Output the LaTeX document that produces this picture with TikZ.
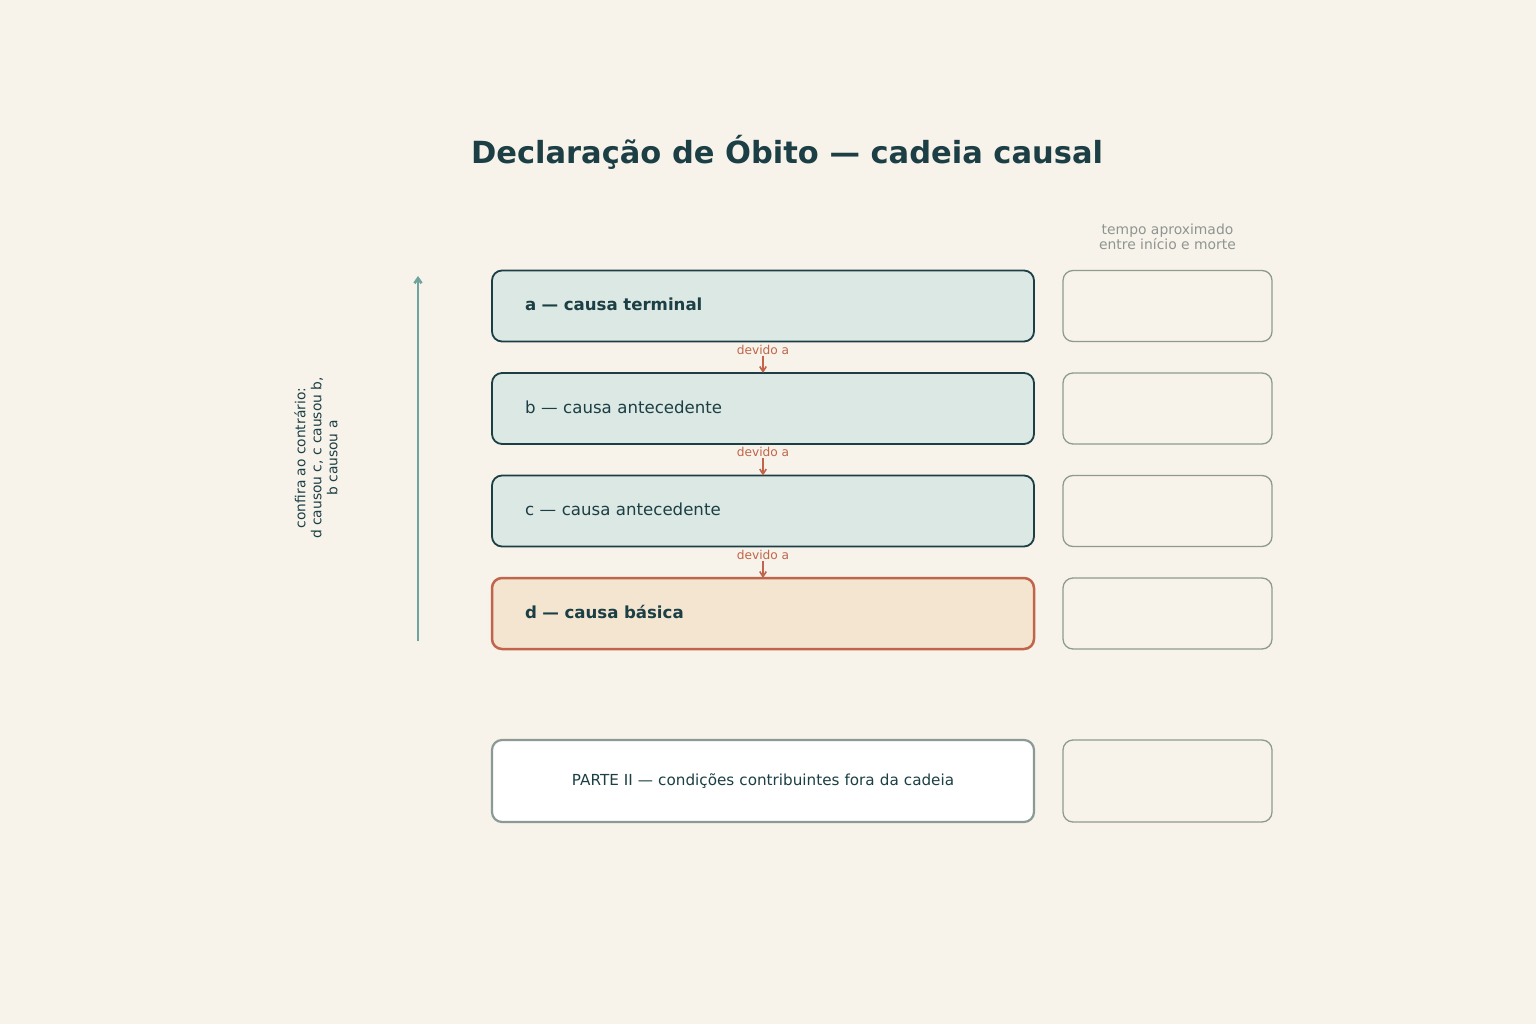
\documentclass[tikz,border=0pt]{standalone}
\usepackage{fontspec}
\setmainfont{DejaVu Sans}
\usepackage{xcolor}
\usepackage{tikz}
\usetikzlibrary{arrows.meta, positioning, calc}
\definecolor{paper}{RGB}{248,243,234}
\definecolor{ink}{RGB}{27,63,68}
\definecolor{mint}{RGB}{220,232,227}
\definecolor{sand}{RGB}{244,229,208}
\definecolor{rust}{RGB}{192,101,75}
\definecolor{stone}{RGB}{140,154,150}
\definecolor{sage}{RGB}{142,154,142}
\definecolor{fog}{RGB}{142,149,144}
\definecolor{teal}{RGB}{111,163,157}

\begin{document}
\begin{tikzpicture}[
    x=1pt, y=-1pt,
    node distance=31.5pt,
    cause/.style={rectangle, draw=ink, line width=1.8pt, outer sep=0pt, fill=mint, rounded corners=10pt, minimum width=542pt, minimum height=71pt, text width=476pt, text depth=3.5pt, inner xsep=33pt, align=left, text=ink, font=\fontsize{16.6}{19}\selectfont},
    timebox/.style={rectangle, draw=sage, line width=1.3pt, outer sep=0pt, rounded corners=10pt, minimum width=209pt, minimum height=71pt},
    due/.style={text=rust, font=\fontsize{12.2}{14}\selectfont, inner sep=1pt},
    arrow/.style={-{Straight Barb[length=5pt, width=6.5pt]}, line width=1.6pt, rust}
]
\useasboundingbox[fill=paper] (0,0) rectangle (1536,1024);

% Title
\node[text=ink, font=\bfseries\fontsize{30.5}{36}\selectfont] (title) at (787,152) {Declaração de Óbito — cadeia causal};

% Parte I
\node[cause, font=\bfseries\fontsize{16.6}{19}\selectfont] (causea) at (763,306) {a — causa terminal};
\node[cause, below=of causea] (causeb) {b — causa antecedente};
\node[cause, below=of causeb] (causec) {c — causa antecedente};
\node[cause, below=of causec, draw=rust, fill=sand, line width=2.5pt, font=\bfseries\fontsize{16.6}{19}\selectfont] (caused) {d — causa básica};

% Parte II
\node[cause, below=91pt of caused, draw=stone, fill=white, line width=2.2pt, minimum height=82pt, align=center, font=\fontsize{15.2}{18}\selectfont] (parte) {PARTE II — condições contribuintes fora da cadeia};

% Time column
\node[timebox, right=29pt of causea] (timea) {};
\node[timebox, right=29pt of causeb] (timeb) {};
\node[timebox, right=29pt of causec] (timec) {};
\node[timebox, right=29pt of caused] (timed) {};
\node[timebox, right=29pt of parte, minimum height=82pt] (timep) {};
\node[above=17pt of timea, align=center, text=fog, font=\fontsize{13.9}{15.5}\selectfont] (timehead) {tempo aproximado\\entre início e morte};

% Devido a
\node[due, below=2.5pt of causea] (dueab) {devido a};
\node[due, below=2.5pt of causeb] (duebc) {devido a};
\node[due, below=2.5pt of causec] (duecd) {devido a};
\draw[arrow] (dueab.south) -- (causeb.north);
\draw[arrow] (duebc.south) -- (causec.north);
\draw[arrow] (duecd.south) -- (caused.north);

% Read upwards
\coordinate (upfrom) at (418,641);
\coordinate (upto) at (418,276);
\draw[-{Straight Barb[length=5pt, width=7pt]}, line width=2.6pt, teal] (upfrom) -- (upto);
\node[rotate=90, align=center, text=ink, font=\fontsize{13.8}{16}\selectfont] (reading) at (316,458) {confira ao contrário:\\d causou c, c causou b,\\b causou a};

\end{tikzpicture}
\end{document}
